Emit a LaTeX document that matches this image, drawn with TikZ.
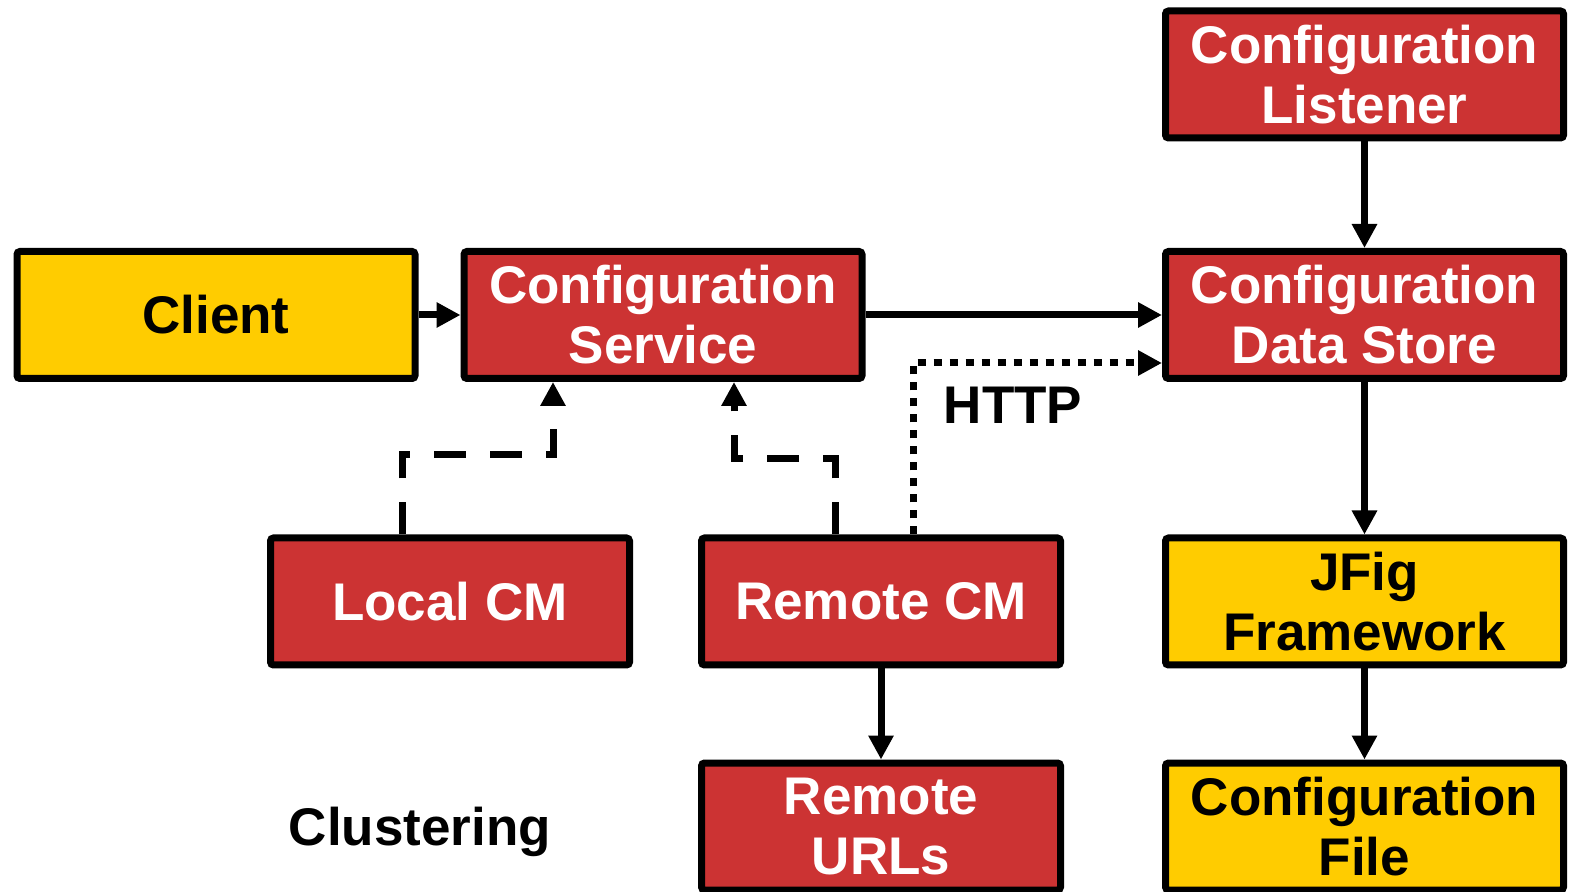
\documentclass[tikz,border=0pt]{standalone}
\usepackage{fontspec}
\setmainfont{Liberation Sans}
\usetikzlibrary{arrows.meta,calc}
\definecolor{boxred}{HTML}{CC3333}
\definecolor{boxyellow}{HTML}{FFCC00}
\tikzset{
  box/.style={draw=black, line width=3.5pt, rounded corners=1.5pt,
    align=center, inner sep=0pt, font=\fontsize{26.5}{30}\selectfont\bfseries},
  redbox/.style={box, fill=boxred, text=white},
  yellowbox/.style={box, fill=boxyellow, text=black},
  wide/.style={minimum width=199pt, minimum height=63.5pt},
  mid/.style={minimum width=179.5pt, minimum height=63.5pt},
  conn/.style={line width=3.5pt, -{Triangle[length=12pt,width=12pt]}},
  dashconn/.style={conn, dash pattern=on 16pt off 12pt},
  dotconn/.style={conn, dash pattern=on 4pt off 4pt},
  plain/.style={font=\fontsize{26.5}{30}\selectfont\bfseries, text=black}
}
\begin{document}
\begin{tikzpicture}[x=0.5pt, y=-0.5pt]
  \useasboundingbox (0,0) rectangle (1569,892);

  % boxes
  \node[yellowbox, wide] (client) at (216,315) {Client};
  \node[redbox, wide] (cs) at (663,315) {Configuration\\Service};
  \node[redbox, wide] (cl) at (1364.5,74.5) {Configuration\\Listener};
  \node[redbox, wide] (ds) at (1364.5,315) {Configuration\\Data Store};
  \node[redbox, mid] (lcm) at (450,601.5) {Local CM};
  \node[redbox, mid] (rcm) at (881,601.5) {Remote CM};
  \node[yellowbox, wide] (jfig) at (1364.5,601.5) {JFig\\Framework};
  \node[redbox, mid] (urls) at (881,826.5) {Remote\\URLs};
  \node[yellowbox, wide] (cfile) at (1364.5,826.5) {Configuration\\File};

  % free labels
  \node[plain] (clus) at (420,832) {Clustering};
  \node[plain] (http) at (1013,405) {HTTP};

  % solid connectors
  \draw[conn] (client.east) -- (cs.west);
  \draw[conn] (cs.east) -- (ds.west);
  \draw[conn] (cl.south) -- (ds.north);
  \draw[conn] (ds.south) -- (jfig.north);
  \draw[conn] (jfig.south) -- (cfile.north);
  \draw[conn] (rcm.south) -- (urls.north);

  % dashed connectors into the configuration service
  \draw[dashconn] ([xshift=-24pt]lcm.north) -- ++(0,-80) -| ([xshift=-55pt]cs.south);
  \draw[dashconn] ([xshift=-23pt]rcm.north) -- ++(0,-76) -| ([xshift=35.5pt]cs.south);

  % dotted HTTP connector
  \draw[dotconn] ([xshift=16pt]rcm.north) |- ([yshift=-24pt]ds.west);
\end{tikzpicture}
\end{document}
